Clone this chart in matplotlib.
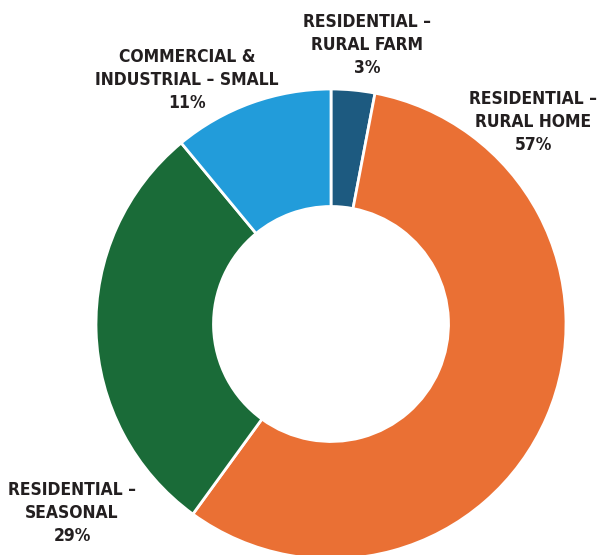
import matplotlib
matplotlib.use("Agg")
import matplotlib.pyplot as plt

# share of members by rate class, clockwise from the top
labels = ["RESIDENTIAL –\nRURAL FARM", "RESIDENTIAL –\nRURAL HOME",
          "RESIDENTIAL –\nSEASONAL", "COMMERCIAL &\nINDUSTRIAL – SMALL"]
shares = [3, 57, 29, 11]
colors = ["#1D5A80", "#EA7034", "#1A6B38", "#229CDA"]
label_pos = [(0.153, 1.187), (0.860, 0.860), (-1.102, -0.804), (-0.613, 1.038)]

plt.rcParams["font.family"] = ["DejaVu Sans"]

fig = plt.figure(figsize=(6.01, 5.55), dpi=100)
ax = fig.add_axes([0, 0, 1, 1])
R = 235.0
ax.axis("off")

ax.pie(shares, colors=colors, startangle=90, counterclock=False, radius=1.0,
       wedgeprops=dict(width=0.5, edgecolor="white", linewidth=2))
ax.set_aspect("auto")
ax.set_xlim(-331 / R, (601 - 331) / R)
ax.set_ylim((324 - 555) / R, 324 / R)

for lab, v, (x, y) in zip(labels, shares, label_pos):
    ax.text(x, y, f"{lab}\n{v}%", ha="center", va="center", multialignment="center",
            fontsize=12.5, fontweight="bold", fontstretch="condensed",
            color="#231F20", linespacing=1.35)

fig.savefig("out.png", dpi=100)
